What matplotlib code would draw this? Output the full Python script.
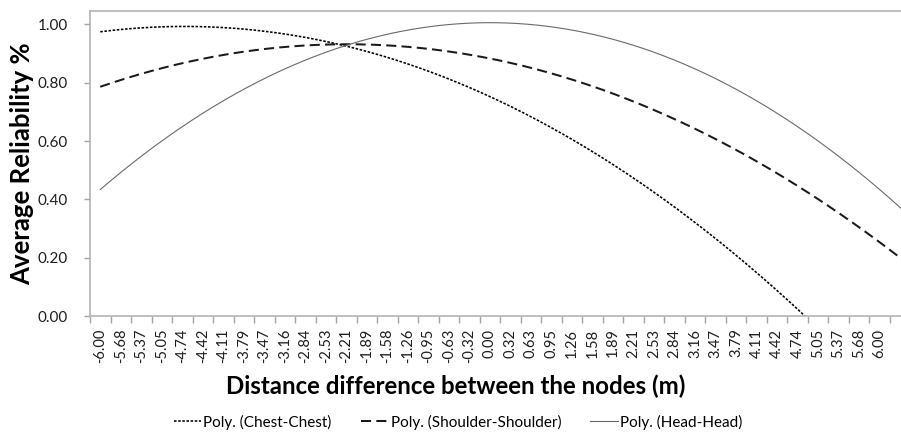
import numpy as np
import matplotlib
matplotlib.use("Agg")
import matplotlib.pyplot as plt

# Category labels on the distance axis (m)
distance_labels = [
    "-6.00", "-5.68", "-5.37", "-5.05", "-4.74", "-4.42", "-4.11", "-3.79",
    "-3.47", "-3.16", "-2.84", "-2.53", "-2.21", "-1.89", "-1.58", "-1.26",
    "-0.95", "-0.63", "-0.32", "0.00", "0.32", "0.63", "0.95", "1.26",
    "1.58", "1.89", "2.21", "2.53", "2.84", "3.16", "3.47", "3.79",
    "4.11", "4.42", "4.74", "5.05", "5.37", "5.68", "6.00",
]

# Average reliability per distance category for each node placement
chest_chest = [
    0.975, 0.983, 0.988, 0.992, 0.993, 0.992, 0.989, 0.984,
    0.976, 0.967, 0.955, 0.942, 0.925, 0.907, 0.887, 0.864,
    0.840, 0.813, 0.784, 0.752, 0.719, 0.684, 0.645, 0.606,
    0.564, 0.520, 0.473, 0.424, 0.374, 0.320, 0.266, 0.208,
    0.148, 0.087, 0.023, -0.042, -0.111, -0.180, -0.254,
]
shoulder_shoulder = [
    0.786, 0.810, 0.830, 0.850, 0.867, 0.882, 0.895, 0.906,
    0.916, 0.923, 0.928, 0.931, 0.932, 0.931, 0.928, 0.923,
    0.916, 0.907, 0.896, 0.883, 0.868, 0.851, 0.832, 0.811,
    0.788, 0.763, 0.736, 0.706, 0.675, 0.642, 0.607, 0.570,
    0.530, 0.489, 0.446, 0.401, 0.353, 0.305, 0.253,
]
head_head = [
    0.434, 0.493, 0.547, 0.601, 0.649, 0.695, 0.737, 0.778,
    0.815, 0.847, 0.878, 0.904, 0.928, 0.949, 0.966, 0.981,
    0.992, 1.000, 1.004, 1.006, 1.004, 1.000, 0.992, 0.981,
    0.966, 0.949, 0.928, 0.904, 0.878, 0.847, 0.815, 0.778,
    0.737, 0.695, 0.649, 0.601, 0.547, 0.493, 0.434,
]
series_names = ["Poly. (Chest-Chest)", "Poly. (Shoulder-Shoulder)", "Poly. (Head-Head)"]
y_ticks = [0.0, 0.2, 0.4, 0.6, 0.8, 1.0]

plt.rcParams["font.family"] = ["Lato", "DejaVu Sans"]

W, H = 901, 436
fig = plt.figure(figsize=(W / 100, H / 100), dpi=100)
fig.patch.set_facecolor("white")

ax_left, ax_right, ax_top, ax_bottom = 90, 901, 11, 316
ax = fig.add_axes([ax_left / W, 1 - ax_bottom / H,
                   (ax_right - ax_left) / W, (ax_bottom - ax_top) / H])

n = len(distance_labels)
idx = np.arange(n)
x_max = -0.5 + (ax_right - ax_left) / 20.51

styles = [
    dict(color="black", lw=1.15, linestyle=(0, (1.6, 1.0))),
    dict(color="#1a1a1a", lw=1.45, linestyle=(0, (5.0, 2.6))),
    dict(color="#6a6a6a", lw=0.8, linestyle="-"),
]

# Second-order polynomial trendlines, extended to the plot edge
xs = np.linspace(0, x_max, 500)
handles = []
for vals, name, st in zip([chest_chest, shoulder_shoulder, head_head], series_names, styles):
    coef = np.polyfit(idx, vals, 2)
    line, = ax.plot(xs, np.polyval(coef, xs), label=name, **st)
    handles.append(line)

ax.set_xlim(-0.5, x_max)
ax.set_ylim(0, 1.046)

# Category axis: tick marks on boundaries, labels at centres
ax.set_xticks(np.arange(-0.5, n + 0.5, 1.0))
ax.set_xticklabels([])
ax.set_xticks(idx, minor=True)
ax.set_xticklabels(distance_labels, minor=True, rotation=90, fontsize=10.5,
                   color="#1e1e1e", va="top")
ax.tick_params(axis="x", which="major", length=5, color="#a6a6a6", width=1, direction="out")
ax.tick_params(axis="x", which="minor", length=0, pad=9)

ax.set_yticks(y_ticks)
ax.set_yticklabels([f"{v:.2f}" for v in y_ticks], fontsize=11, color="#1e1e1e")
ax.tick_params(axis="y", length=4, color="#a6a6a6", width=1, pad=12)

for side in ["left", "bottom", "top"]:
    ax.spines[side].set_color("#b3b3b3")
    ax.spines[side].set_linewidth(1.2)
ax.spines["right"].set_visible(False)

fig.text(455.5 / W, 1 - 394 / H, "Distance difference between the nodes (m)",
         ha="center", va="baseline", fontsize=17.3, fontweight="bold", color="black")
fig.text(34 / W, 1 - 164 / H, "Average Reliability %", rotation=90,
         ha="right", va="center", fontsize=18.5, fontweight="bold", color="black")

fig.legend(handles=handles, loc="center", bbox_to_anchor=(458 / W, 1 - 422 / H),
           ncol=3, frameon=False, fontsize=11, handlelength=1.8,
           handletextpad=0.15, columnspacing=1.9)

fig.savefig("out.png", dpi=100, facecolor="white")
